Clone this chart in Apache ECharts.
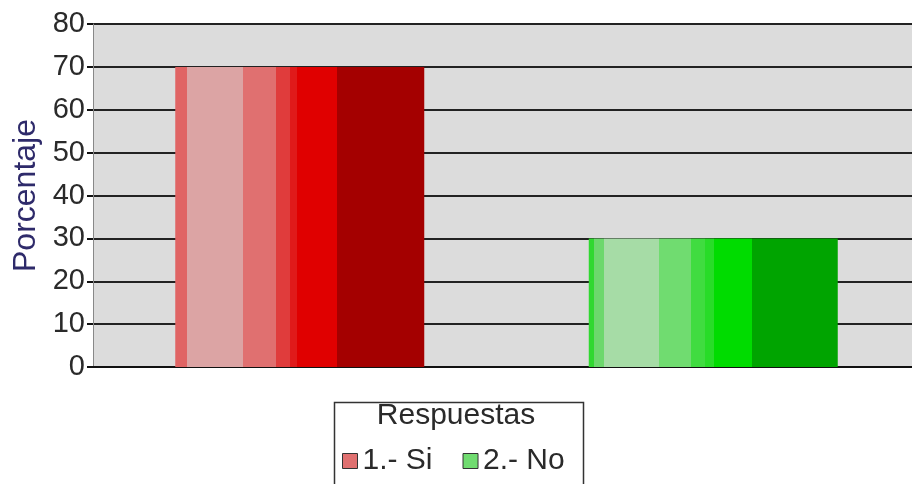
<!DOCTYPE html>
<html>
<head>
<meta charset="utf-8">
<script src="https://cdn.jsdelivr.net/npm/echarts@6/dist/echarts.min.js"></script>
<style>
  html, body { margin: 0; padding: 0; background: #fff; overflow: hidden; }
  /* el área de trazado continúa un poco más allá del borde derecho */
  #chart { width: 920px; height: 484px; }
</style>
</head>
<body>
<div id="chart"></div>
<script>
// datos
const categories = ['1.- Si', '2.- No']
const siValues = [70, '-']
const noValues = ['-', 30]
const legendTitle = 'Respuestas'
const axisName = 'Porcentaje'

// franjas de color de cada barra (offset inicial, color)
const stripes = (list) => {
  const stops = []
  list.forEach((s, i) => {
    const end = i < list.length - 1 ? list[i + 1][0] : 1
    stops.push({ offset: s[0], color: s[1] })
    stops.push({ offset: end, color: s[1] })
  })
  return { type: 'linear', x: 0, y: 0, x2: 1, y2: 0, colorStops: stops }
}

const redFill = stripes([
  [0, '#e06464'], [0.048, '#dca4a4'], [0.273, '#e07070'], [0.406, '#e03c3c'],
  [0.462, '#e01a1a'], [0.49, '#e00000'], [0.651, '#a40000']
])
const greenFill = stripes([
  [0, '#30d830'], [0.02, '#6cd86c'], [0.06, '#a6dca6'], [0.284, '#70dc70'],
  [0.412, '#40dc40'], [0.468, '#28dc28'], [0.504, '#00dc00'], [0.656, '#00a400']
])

const font = '"Liberation Sans", Arial, sans-serif'
const chart = echarts.init(document.getElementById('chart'))

chart.setOption({
  animation: false,
  backgroundColor: '#ffffff',
  graphic: [
    {
      type: 'rect',
      left: 332,
      top: 400,
      shape: { width: 249, height: 100 },
      style: { fill: 'none', stroke: '#333', lineWidth: 1.5 },
      z: 0
    },
    {
      type: 'text',
      x: 456,
      y: 401,
      style: {
        text: legendTitle,
        textAlign: 'center',
        textVerticalAlign: 'top',
        font: '30px ' + font,
        fill: '#2a2a2a'
      }
    }
  ],
  legend: {
    top: 441,
    left: 337,
    itemWidth: 15,
    itemHeight: 15,
    itemGap: 30,
    icon: 'rect',
    textStyle: { fontFamily: font, fontSize: 30, color: '#2a2a2a' },
    data: [
      { name: categories[0], itemStyle: { color: '#e07070', borderColor: '#333', borderWidth: 1 } },
      { name: categories[1], itemStyle: { color: '#70dc70', borderColor: '#333', borderWidth: 1 } }
    ]
  },
  grid: {
    left: 93,
    right: 0,
    top: 24,
    bottom: 117,
    show: true,
    backgroundColor: '#dcdcdc',
    borderWidth: 0
  },
  xAxis: {
    type: 'category',
    data: categories,
    axisLine: { show: true, lineStyle: { color: '#111', width: 2 } },
    axisTick: { show: false },
    axisLabel: { show: false },
    splitLine: { show: false }
  },
  yAxis: {
    type: 'value',
    min: 0,
    max: 80,
    interval: 10,
    name: axisName,
    nameLocation: 'middle',
    nameGap: 50,
    nameTextStyle: { fontFamily: font, fontSize: 32, color: '#2e2a6a' },
    axisLine: { show: true, lineStyle: { color: '#888', width: 1 } },
    axisTick: { show: true, length: 6, lineStyle: { color: '#111', width: 2 } },
    axisLabel: { margin: 8, fontFamily: font, fontSize: 29, color: '#2a2a2a' },
    splitLine: { show: true, lineStyle: { color: '#222', width: 2 } }
  },
  series: [
    {
      name: categories[0],
      type: 'bar',
      stack: 'resp',
      barWidth: 249,
      data: siValues,
      itemStyle: { color: redFill }
    },
    {
      name: categories[1],
      type: 'bar',
      stack: 'resp',
      barWidth: 249,
      data: noValues,
      itemStyle: { color: greenFill }
    }
  ]
})
</script>
</body>
</html>
